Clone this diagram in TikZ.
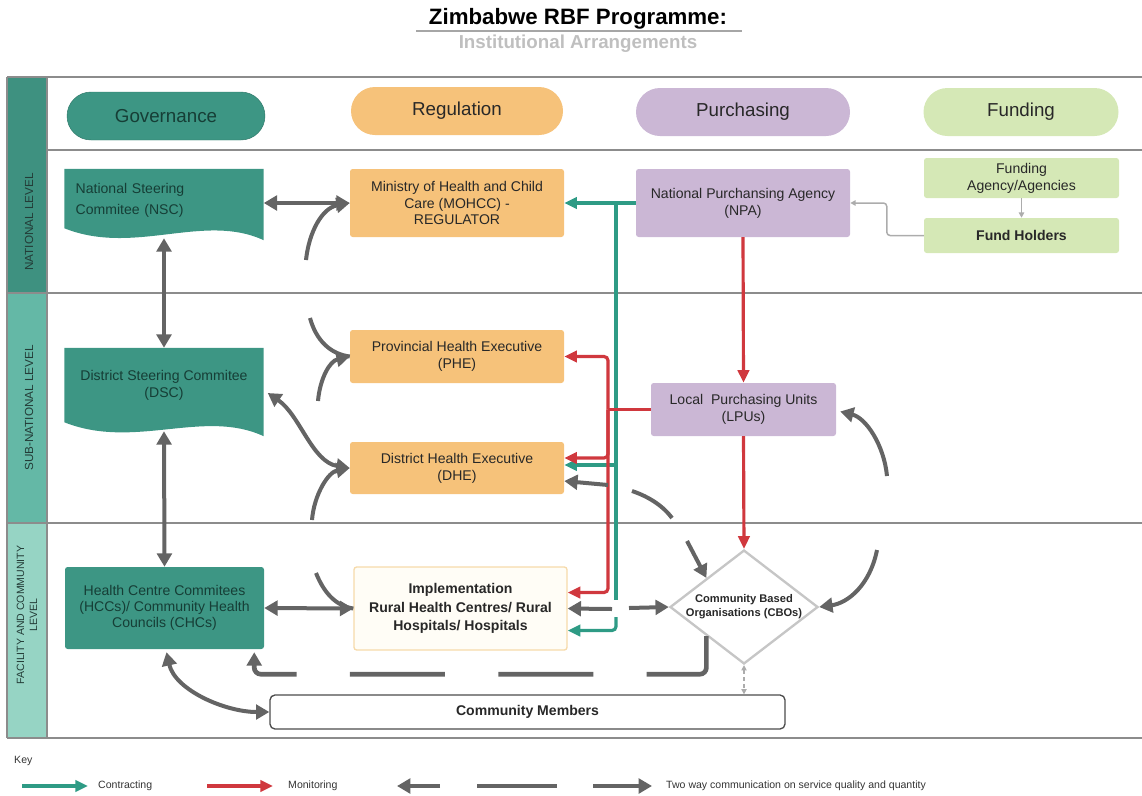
\documentclass[tikz,border=0pt]{standalone}
\usepackage{fontspec}
\setmainfont{Liberation Sans}
\usetikzlibrary{calc}
\usetikzlibrary{arrows.meta}
\usetikzlibrary{shapes.geometric}
\usetikzlibrary{backgrounds}

\definecolor{govteal}{RGB}{61,150,132}
\definecolor{govtext}{RGB}{22,62,54}
\definecolor{regorange}{RGB}{246,194,122}
\definecolor{purlav}{RGB}{203,183,213}
\definecolor{fundgreen}{RGB}{213,232,182}
\definecolor{boxtext}{RGB}{40,40,40}
\definecolor{leveltext}{RGB}{35,60,55}
\definecolor{levdark}{RGB}{62,145,128}
\definecolor{levmid}{RGB}{100,184,166}
\definecolor{levlight}{RGB}{150,212,196}
\definecolor{framegray}{RGB}{140,140,140}
\definecolor{commgray}{RGB}{100,100,100}
\definecolor{contrgreen}{RGB}{46,155,133}
\definecolor{monred}{RGB}{208,56,62}
\definecolor{implfill}{RGB}{255,253,246}
\definecolor{impldraw}{RGB}{246,218,170}

\begin{document}
\begin{tikzpicture}[x=0.3mm,y=-0.3mm,
        pill/.style={rectangle,rounded corners=7.2mm,minimum height=14.4mm,inner sep=1mm,text=boxtext,font=\fontsize{16}{18}\selectfont},
        box/.style={rectangle,rounded corners=0.8mm,inner sep=1mm,align=center,text=boxtext,font=\fontsize{12}{14.5}\selectfont},
        gov/.style={box,fill=govteal,text=govtext,minimum width=59.7mm},
        reg/.style={box,fill=regorange,minimum width=64.2mm},
        pur/.style={box,fill=purlav,minimum width=64.2mm},
        fund/.style={box,fill=fundgreen,minimum width=58.5mm},
        level/.style={rotate=90,align=center,text=leveltext,font=\fontsize{10}{12}\selectfont},
        keytext/.style={anchor=west,inner sep=0pt,text=black!80,font=\fontsize{9}{11}\selectfont},
        frame/.style={draw=framegray,line width=0.6mm},
        comm/.style={draw=commgray,line width=1.2mm,>={Triangle[length=4mm,width=4.4mm]}},
        commdash/.style={comm,line width=1.4mm,dash pattern=on 28.5mm off 16mm},
        contr/.style={draw=contrgreen,line width=0.95mm,>={Triangle[length=3.8mm,width=3.4mm]}},
        mon/.style={draw=monred,line width=0.95mm,>={Triangle[length=3.8mm,width=3.4mm]}},
        thinarrow/.style={draw=gray!65,line width=0.45mm,>={Triangle[length=1.6mm,width=1.6mm]}}
      ]
      \useasboundingbox (0,0) rectangle (1142,795);

      \node[font=\bfseries\fontsize{19}{22}\selectfont] (title) at (578,19) {Zimbabwe RBF Programme:};
      \draw[gray!70,line width=0.4mm] (416,31) -- (742,31);
      \node[text=gray!50,font=\bfseries\fontsize{16}{18}\selectfont] (subtitle) at (578,44) {Institutional Arrangements};

      \fill[levdark] (7,77) rectangle (47,293);
      \fill[levmid] (7,293) rectangle (47,523);
      \fill[levlight] (7,523) rectangle (47,738);
      \draw[frame] (7,77) -- (1142,77);
      \draw[frame] (47,150) -- (1142,150);
      \draw[frame] (7,293) -- (1142,293);
      \draw[frame] (7,523) -- (1142,523);
      \draw[frame] (7,738) -- (1142,738);
      \draw[frame] (7,77) -- (7,738);
      \draw[frame] (47,77) -- (47,738);

      \node[level] (natlab) at (29,222) {NATIONAL LEVEL};
      \node[level] (sublab) at (29,408) {SUB-NATIONAL LEVEL};
      \node[level,font=\fontsize{9}{11}\selectfont] (faclab) at (27,615) {FACILITY AND COMMUNITY\\LEVEL};

      \node[pill,fill=govteal,draw=govteal!80!black,text=govtext,minimum width=59.4mm] (governance) at (166,116) {Governance};
      \node[pill,fill=regorange,minimum width=63.6mm] (regulation) at (457,111) {Regulation};
      \node[pill,fill=purlav,minimum width=64.2mm] (purchasing) at (743,112) {Purchasing};
      \node[pill,fill=fundgreen,minimum width=58.5mm] (funding) at (1021,112) {Funding};

      \node[box,text=govtext,text width=53mm,align=left,minimum width=59.7mm,minimum height=18.6mm,font=\fontsize{12}{18}\selectfont] (nsc) at (164,200) {National Steering\\Commitee (NSC)};
      \node[reg,minimum height=20.4mm,font=\fontsize{12}{14}\selectfont] (moh) at (457,203) {Ministry of Health and Child\\Care (MOHCC) -\\REGULATOR};
      \node[pur,minimum height=20.4mm] (npa) at (743,203) {National Purchansing Agency\\(NPA)};
      \node[fund,minimum height=12mm] (fa) at (1021.5,178) {Funding\\Agency/Agencies};
      \node[fund,minimum height=10.5mm,font=\bfseries\fontsize{12}{14.5}\selectfont] (fh) at (1021.5,235.5) {Fund Holders};

      \node[box,text=govtext,minimum width=59.7mm,minimum height=22.2mm] (dsc) at (164,385) {District Steering Commitee\\(DSC)};
      \node[reg,minimum height=15.9mm] (phe) at (457,356.5) {Provincial Health Executive\\(PHE)};
      \node[reg,minimum height=15.6mm] (dhe) at (457,468) {District Health Executive\\(DHE)};
      \node[pur,minimum width=55.5mm,minimum height=15.9mm] (lpu) at (743.5,409.5) {Local\ \ Purchasing Units\\(LPUs)};

      \node[gov,minimum height=24.6mm,font=\fontsize{12}{13.5}\selectfont] (hcc) at (164.5,608) {Health Centre Commitees\\(HCCs)/ Community Health\\Councils (CHCs)};
      \node[box,fill=implfill,draw=impldraw,line width=0.4mm,minimum width=63.9mm,minimum height=24.9mm,font=\bfseries\fontsize{12}{15.5}\selectfont] (impl) at (460.5,608.5) {Implementation\\Rural Health Centres/ Rural\\Hospitals/ Hospitals};
      \node[diamond,draw=gray!45,line width=0.7mm,fill=white,aspect=1.3,inner sep=0pt,minimum width=42.9mm,minimum height=33mm,align=center,text=boxtext,font=\bfseries\fontsize{9.5}{12}\selectfont] (cbo) at (744,607) {Community Based\\Organisations (CBOs)};
      \node[draw=black!70,fill=white,rounded corners=1.5mm,line width=0.4mm,minimum width=154.5mm,minimum height=10.2mm,text=boxtext,font=\bfseries\fontsize{12}{14.5}\selectfont] (cm) at (527.5,712) {Community Members};

      \begin{scope}[on background layer]
        \fill[govteal] (nsc.north west) -- (nsc.north east) -- ($(nsc.south east)+(0,9)$) .. controls +(-60,-28) and +(70,28) .. ($(nsc.south west)+(0,-3)$) -- cycle;
        \fill[govteal] (dsc.north west) -- (dsc.north east) -- ($(dsc.south east)+(0,14)$) .. controls +(-60,-28) and +(70,28) .. (dsc.south west) -- cycle;
      \end{scope}

      \coordinate (c1) at (306,260);
      \coordinate (c2) at (310,318);
      \coordinate (c3) at (318,401);
      \coordinate (c4) at (312,520);
      \coordinate (c5) at (316,573);
      \coordinate (g1) at (616,203);
      \coordinate (g2) at (616,600);
      \coordinate (g3) at (616,465);
      \coordinate (g4) at (616,617);
      \coordinate (r1) at (608,409.5);
      \coordinate (d1) at (608,485);
      \coordinate (d2) at (632,491);
      \coordinate (d3) at (672,518);
      \coordinate (d4) at (687,541);
      \coordinate (i1) at (612,609);
      \coordinate (i2) at (629,608);
      \coordinate (e1) at (877,550);
      \coordinate (e2) at (887,476);

      \draw[comm,<->] (nsc.east |- moh.west) -- (moh.west);
      \draw[comm,->] (c1) .. controls (309,232) and (322,208) .. (moh.west);
      \draw[comm,<->] ($(nsc.south)+(0,7)$) -- (dsc.north);
      \draw[comm,<->] ($(dsc.south)+(0,9)$) -- (hcc.north);
      \draw[comm] (c2) .. controls (316,340) and (330,354) .. (phe.west);
      \draw[comm,->] (c3) .. controls (320,378) and (330,361) .. (phe.west);
      \draw[comm,<->] ($(dsc.east)+(4,8)$) .. controls (300,415) and (312,462) .. (dhe.west);
      \draw[comm,->] (c4) .. controls (314,495) and (328,472) .. (dhe.west);
      \draw[comm] (c5) .. controls (324,593) and (336,606) .. (impl.west);
      \draw[comm,<->] (hcc.east) -- (impl.west);
      \draw[comm,<->] ($(hcc.south)+(2,3)$) .. controls (175,690) and (225,712) .. (cm.west);

      \draw[contr,->] (npa.west) -- (moh.east);
      \draw[contr] (g1) -- (g2);
      \draw[contr,->] (g3) -- (dhe.east |- g3);
      \draw[contr,->,rounded corners=1.2mm] (g4) |- ($(impl.east)+(0,22)$);

      \draw[mon,->] (npa.south) -- (lpu.north);
      \draw[mon,->] (lpu.south) -- (cbo.north);
      \draw[mon] (lpu.west) -- (r1);
      \draw[mon,->,rounded corners=1.2mm] (r1) |- (phe.east);
      \draw[mon,->,rounded corners=1.2mm] (r1) |- ($(dhe.east)+(0,-10)$);
      \draw[mon,->,rounded corners=1.2mm] (r1) |- ($(impl.east)+(0,-16)$);

      \draw[comm,->] (d1) -- ($(dhe.east)+(0,13)$);
      \draw[comm] (d2) .. controls (650,497) and (664,507) .. (d3);
      \draw[comm,->] (d4) -- (cbo.north west);
      \draw[comm,->] (i1) -- (impl.east);
      \draw[comm,->] (i2) -- (cbo.west);
      \draw[comm,->] (e1) .. controls (870,585) and (848,603) .. (cbo.east);
      \draw[comm,->] (e2) .. controls (884,445) and (866,418) .. ($(lpu.east)+(4,2)$);
      \draw[commdash,->,rounded corners=2mm] (cbo.south west) |- ($(hcc.south east)+(-10,25)$) -- ($(hcc.south east)+(-10,3)$);

      \draw[thinarrow,dashed,<->] (cbo.south) -- (cbo.south |- cm.north);
      \draw[thinarrow,->] (fa.south) -- (fh.north);
      \draw[thinarrow,->,rounded corners=1mm] (fh.west) -- ++(-37,0) |- (npa.east);

      \node[keytext] (keylab) at (14,761) {Key};
      \coordinate (k1) at (22,786);
      \coordinate (k2) at (88,786);
      \coordinate (k3) at (207,786);
      \coordinate (k4) at (273,786);
      \coordinate (k5) at (440,786);
      \coordinate (k6) at (397,786);
      \coordinate (k7) at (477,786);
      \coordinate (k8) at (557,786);
      \coordinate (k9) at (593,786);
      \coordinate (k10) at (652,786);
      \draw[contr,->] (k1) -- (k2);
      \node[keytext] (kcontr) at (98,786) {Contracting};
      \draw[mon,->] (k3) -- (k4);
      \node[keytext] (kmon) at (288,786) {Monitoring};
      \draw[comm,->] (k5) -- (k6);
      \draw[comm] (k7) -- (k8);
      \draw[comm,->] (k9) -- (k10);
      \node[keytext] (kcomm) at (666,786) {Two way communication on service quality and quantity};
    \end{tikzpicture}
\end{document}
